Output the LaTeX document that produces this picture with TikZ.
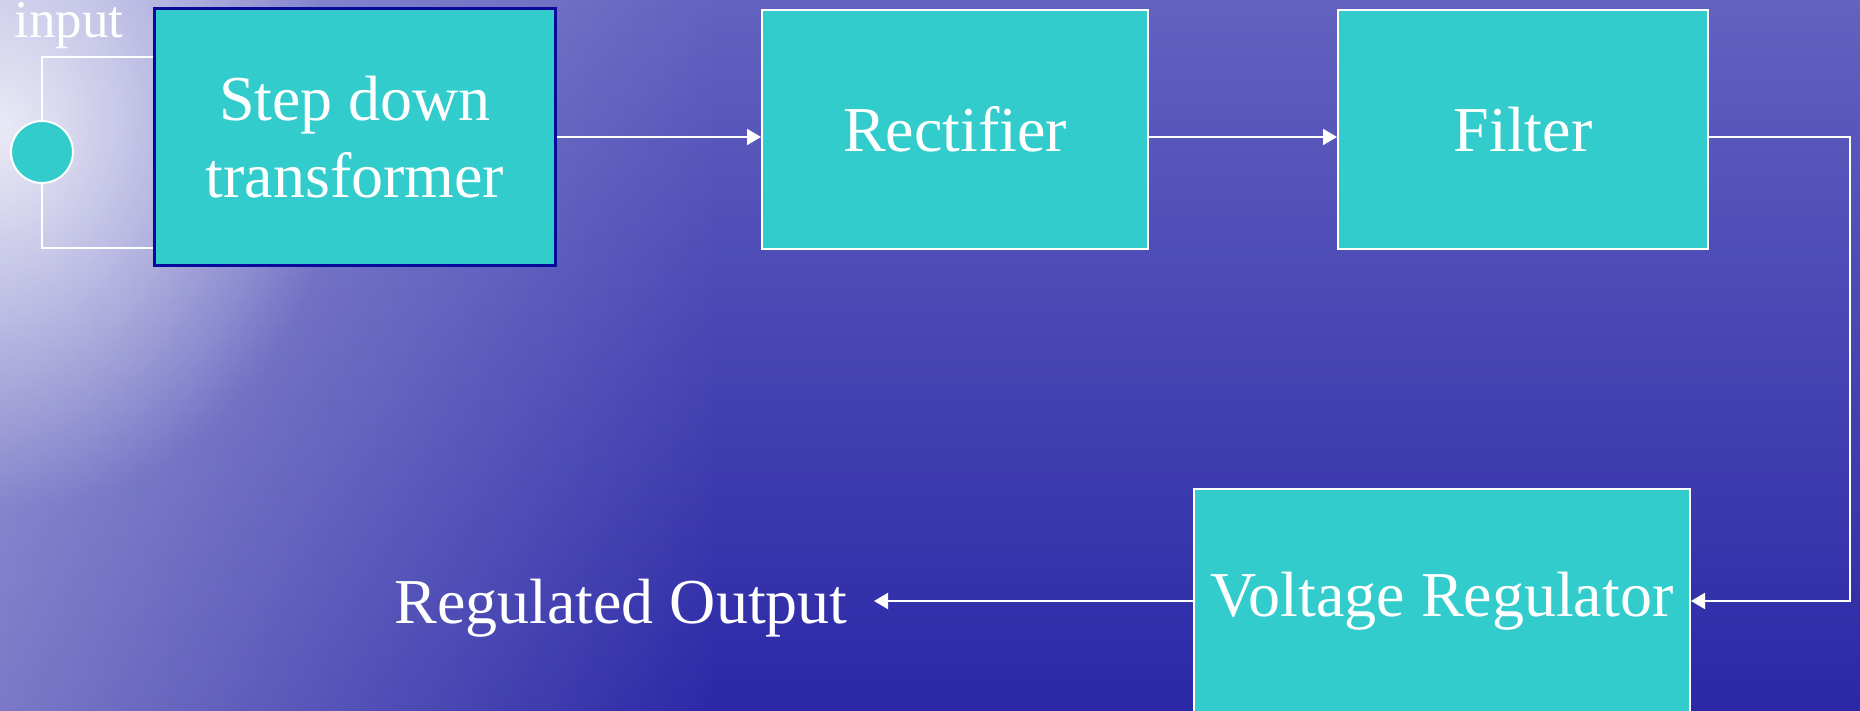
\documentclass[tikz,border=0pt]{standalone}
\usepackage{fontspec}
\setmainfont{Liberation Serif}
\usetikzlibrary{arrows.meta,fadings}
\definecolor{boxfill}{HTML}{33CCCC}
\definecolor{sdborder}{HTML}{0A0A9A}
\definecolor{bgtop}{HTML}{6262C0}
\definecolor{bgmid}{HTML}{3434AC}
\definecolor{bgbot}{HTML}{2A28A6}
\tikzfading[name=glowfade, inner color=transparent!0, outer color=transparent!100]
\begin{document}
\begin{tikzpicture}[x=0.5pt,y=-0.5pt,
  blk/.style={rectangle, fill=boxfill, draw=white, line width=1pt, anchor=north west,
    inner sep=0pt, text=white, font=\fontsize{32}{38.5}\selectfont, align=center},
  wire/.style={draw=white, line width=1pt},
  arr/.style={wire, -{Triangle[length=7pt,width=8pt]}},
  lbl/.style={text=white, inner sep=0pt, font=\fontsize{32}{38.5}\selectfont}]
\useasboundingbox (0,0) rectangle (1860,711);
\clip (0,0) rectangle (1860,711);
% background
\shade[top color=bgtop, middle color=bgmid, bottom color=bgbot] (0,0) rectangle (1860,711);
\fill[white, fill opacity=0.38, path fading=east] (0,0) rectangle (720,711);
\fill[white, fill opacity=0.8, path fading=glowfade] (0,130) ellipse [x radius=340, y radius=380];
% blocks
\node[blk, draw=sdborder, line width=1.5pt, minimum width=200.5pt, minimum height=128.5pt] (sd) at (153,7) {Step down\\transformer};
\node[blk, minimum width=193pt, minimum height=119.5pt] (rect) at (761,9) {Rectifier};
\node[blk, minimum width=185pt, minimum height=119.5pt] (filt) at (1337,9) {Filter};
\node[blk, minimum width=248pt, minimum height=112pt] (vr) at (1193,488) {Voltage Regulator};
% input source
\node[circle, fill=boxfill, draw=white, line width=1pt, minimum size=31pt, inner sep=0pt] (src) at (42,152) {};
\coordinate (tin) at (153,57);
\coordinate (bin) at (153,248);
\draw[wire] (src.north) |- (tin);
\draw[wire] (src.south) |- (bin);
\node[lbl, anchor=base west, font=\fontsize{26.5}{30}\selectfont] (inlbl) at (14,38) {input};
% connectors
\draw[arr] (sd.east) -- (sd.east -| rect.west);
\draw[arr] (rect.east |- sd.east) -- (filt.west |- sd.east);
\coordinate (cx) at (1850,0);
\draw[arr] (filt.east |- sd.east) -- (cx |- sd.east) |- (vr.east);
% output
\node[lbl, anchor=base east] (outlbl) at (848,623) {Regulated Output};
\coordinate (ox) at (874,0);
\draw[arr] (vr.west) -- (ox |- vr.west);
\end{tikzpicture}
\end{document}
